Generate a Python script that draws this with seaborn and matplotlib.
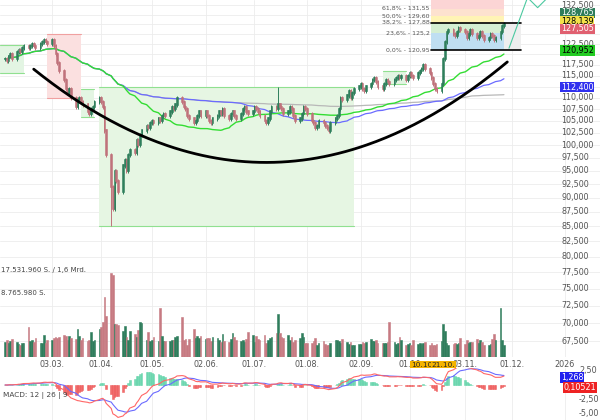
import numpy as np
import pandas as pd
import matplotlib
matplotlib.use("Agg")
import matplotlib.pyplot as plt
import matplotlib.transforms as mtransforms
import seaborn as sns

sns.set_style("white")
plt.rcParams['font.family'] = ['DejaVu Sans']

# ---------------- data (thousands / millions) ----------------
closes_feb = [119, 118.5, 119.5, 120, 119, 120.5, 121, 120.5, 121.5, 122, 121.5, 122, 122.5, 122, 121.5, 122.5, 123, 123.5, 123, 122.5]
closes_mar = [123.5, 122, 120, 118, 116, 114, 112, 111, 112, 110, 108, 109.5, 110, 109, 108.5, 107, 106.5, 107.5, 108, 109, 110]
closes_apr = [109, 108, 103, 98, 92, 88, 95, 93, 91, 96, 97, 95, 98, 99, 98.5, 101, 100, 102, 103, 104, 103.5, 104.5]
closes_may = [105, 104.5, 105.5, 105, 106, 106.5, 106, 107, 108, 107.5, 108.5, 110, 109, 108, 107.5, 106, 105.5, 104.5, 105, 106, 107, 106]
closes_jun = [107, 106, 105, 104.5, 105.5, 106, 107, 106.5, 107.5, 106, 105.5, 106.5, 107, 106, 105.5, 106.5, 107.5, 108, 107, 106.5, 107]
closes_jul = [108, 107.5, 107, 106, 105, 104.5, 105.5, 107, 108, 107.5, 108.5, 108, 107.5, 106.5, 107, 108, 107.5, 106, 105, 105.5, 106.5, 108, 107.5]
closes_aug = [106.5, 105, 104.5, 103.5, 104, 105, 104.5, 104, 103.5, 103, 104.5, 105.5, 106, 107.5, 110, 109.5, 110.5, 111.5, 110, 111, 112]
closes_sep = [112.5, 113, 112, 111.5, 112.5, 113, 114, 114.5, 113.5, 112.5, 112, 113, 114, 113.5, 113, 114, 114.5, 115, 114.5, 115, 114, 115]
closes_oct = [115.5, 115, 114.5, 115.5, 116, 116.5, 117.5, 116.5, 115.5, 114.5, 113, 112, 111.5, 113, 119, 123, 125.5, 126, 125, 124.5, 125.5, 126.5, 126]
closes_nov = [125.5, 124, 125, 126, 125, 124, 124.5, 125.5, 124.5, 123.5, 124, 125, 124.5, 123.5, 124, 125.5, 127, 127.5]

vol_feb = [3.2, 3.5, 3.0, 3.4, 3.8, 3.2, 2.8, 2.5, 3.0, 2.9, 6.2, 3.4, 3.6, 3.1, 3.9, 3.0, 2.9, 4.5, 3.0, 3.6]
vol_mar = [3.6, 3.9, 4.2, 4.0, 4.1, 4.6, 4.3, 3.5, 4.3, 4.0, 3.7, 5.8, 4.4, 3.6, 3.9, 3.3, 3.6, 5.3, 3.3, 3.6, 5.8]
vol_apr = [6.2, 7.2, 12.5, 8.5, 17.5, 17.0, 6.8, 6.9, 6.6, 5.4, 6.4, 4.2, 3.6, 5.4, 4.7, 4.2, 5.6, 7.3, 7.0, 3.5, 5.2, 3.3]
vol_may = [3.6, 4.1, 3.4, 10.2, 4.3, 3.4, 3.3, 3.4, 3.5, 3.6, 4.2, 4.4, 8.4, 3.5, 3.8, 2.6, 3.8, 5.8, 4.0, 4.3, 3.9, 4.3]
vol_jun = [3.7, 3.9, 3.9, 3.3, 4.1, 4.0, 3.6, 3.1, 4.8, 3.4, 3.1, 3.7, 5.1, 4.1, 3.5, 3.4, 3.5, 3.2, 3.8, 5.3, 4.6]
vol_jul = [3.2, 4.3, 3.7, 3.5, 4.5, 2.9, 3.6, 4.0, 4.2, 5.0, 9.0, 5.0, 4.2, 3.9, 4.5, 3.6, 4.1, 3.2, 3.5, 3.9, 4.9, 4.1, 2.9]
vol_aug = [3.0, 3.0, 3.4, 3.9, 2.6, 3.0, 3.3, 2.8, 2.6, 2.4, 2.9, 3.6, 3.5, 3.4, 3.0, 3.8, 3.2, 2.7, 3.1, 2.5, 2.6]
vol_sep = [2.8, 2.8, 3.2, 3.0, 3.1, 3.7, 3.3, 3.4, 3.6, 3.0, 2.9, 2.9, 2.9, 3.2, 7.2, 3.1, 2.8, 2.9, 4.1, 3.6, 2.6, 2.8]
vol_oct = [3.0, 2.6, 3.5, 2.8, 3.0, 2.7, 2.9, 3.1, 2.6, 2.9, 2.6, 2.6, 2.8, 3.3, 6.8, 5.4, 2.9, 2.6, 2.8, 3.0, 2.8, 2.9, 3.9]
vol_nov = [2.7, 3.5, 3.0, 3.1, 3.1, 3.7, 3.0, 3.6, 3.2, 2.5, 2.6, 2.7, 3.8, 4.8, 3.6, 10.2, 3.5, 2.4]

fib_levels = [120.95, 125.2, 127.88, 129.60, 131.55]
fib_names = ["0,0% - 120,95", "23,6% - 125,2", "38,2% - 127,88", "50,0% - 129,60", "61,8% - 131,55"]
price_ticks = np.arange(67500, 132501, 2500)
date_ticks = ["2025-03-03", "2025-04-01", "2025-05-01", "2025-06-02", "2025-07-01",
              "2025-08-01", "2025-09-02", "2025-10-01", "2025-11-03", "2025-12-01", "2026-01-01"]
date_labels = ["03.03.", "01.04.", "01.05.", "02.06.", "01.07.", "01.08.", "02.09.", "01.10", "03.11.", "01.12.", "2026"]

closes = np.array(closes_feb + closes_mar + closes_apr + closes_may + closes_jun + closes_jul +
                  closes_aug + closes_sep + closes_oct + closes_nov) * 1000
vols = np.array(vol_feb + vol_mar + vol_apr + vol_may + vol_jun + vol_jul + vol_aug + vol_sep + vol_oct + vol_nov)
fib_levels = [v * 1000 for v in fib_levels]
n = min(len(closes), len(vols))
closes, vols = closes[:n], vols[:n]
dates = pd.bdate_range("2025-02-03", periods=n)
opens = np.concatenate([[closes[0]], closes[:-1]])
highs = np.maximum(opens, closes) * 1.004
lows = np.minimum(opens, closes) * 0.996
lows[list(dates).index(pd.Timestamp("2025-04-07"))] = 85000
highs[list(dates).index(pd.Timestamp("2025-07-15"))] = 112500
up = closes >= opens

s = pd.Series(closes, index=dates)
ma = pd.DataFrame({"date": dates,
                   "ma50": s.rolling(50, min_periods=1).mean().values,
                   "ma100": s.rolling(100, min_periods=1).mean().values,
                   "ma200": s.rolling(200, min_periods=1).mean().values})
ema12 = s.ewm(span=12).mean(); ema26 = s.ewm(span=26).mean()
macd = (ema12 - ema26) / 1000
sig = macd.ewm(span=9).mean()
hist = macd - sig

# ---------------- figure ----------------
fig = plt.figure(figsize=(6, 4.2), dpi=100)
ax = fig.add_axes([0, 63/420, 1, 357/420])
axm = fig.add_axes([0, 0, 1, 52/420], sharex=ax)
xmin, xmax = pd.Timestamp("2025-01-31"), pd.Timestamp("2026-01-22")
ax.set_yscale("log")
for sp in list(ax.spines.values()) + list(axm.spines.values()):
    sp.set_visible(False)

# grid
for p in price_ticks:
    ax.axhline(p, color="#ececec", lw=0.6, zorder=0)
for d in date_ticks:
    ax.axvline(pd.Timestamp(d), color="#ececec", lw=0.6, zorder=0)
    axm.axvline(pd.Timestamp(d), color="#ececec", lw=0.6, zorder=0)

def rect(x0, x1, y0, y1, fc, ec, lw=0.8, z=1):
    ax.fill_between([pd.Timestamp(x0), pd.Timestamp(x1)], y0, y1, color=fc, lw=0, zorder=z)
    if ec:
        ax.plot([pd.Timestamp(x0), pd.Timestamp(x1)], [y1, y1], color=ec, lw=lw, zorder=z)
        ax.plot([pd.Timestamp(x0), pd.Timestamp(x1)], [y0, y0], color=ec, lw=lw, zorder=z)

rect("2025-01-31", "2025-02-14", 115500, 122300, "#e3f5e3", "#90e090")
rect("2025-02-28", "2025-03-20", 110000, 125000, "#fbe0e0", "#f0a0a0")
rect("2025-03-20", "2025-03-28", 105800, 112000, "#e3f5e3", "#90e090")
rect("2025-03-31", "2025-08-29", 85000, 112300, "#e6f6e3", "#90e090")
rect("2025-09-15", "2025-09-29", 113000, 116000, "#e3f5e3", "#90e090")

# fib box
fx0, fx1, fx2 = pd.Timestamp("2025-10-14"), pd.Timestamp("2025-11-26"), pd.Timestamp("2025-12-06")
fcols = ["#bfdff2", "#d5efd2", "#fff4b5", "#fde2cf", "#fcd5d5"]
for i in range(5):
    top = fib_levels[i + 1] if i < 4 else 134000
    ax.fill_between([fx0, fx1], fib_levels[i], top, color=fcols[i], lw=0, zorder=1)
ax.fill_between([fx1, fx2], fib_levels[0], fib_levels[2], color="#eeeeee", lw=0, zorder=1)
for lv, nm in zip(fib_levels, fib_names):
    ax.text(fx0 - pd.Timedelta(days=1), lv, nm, fontsize=4.5, color="#555555", ha="right", va="center", zorder=5)
ax.plot([fx0, fx2], [fib_levels[2]] * 2, color="black", lw=1.2, zorder=6)
ax.plot([fx0, fx2], [fib_levels[0]] * 2, color="black", lw=1.2, zorder=6)
ax.plot([pd.Timestamp("2025-11-29"), pd.Timestamp("2025-12-10"), pd.Timestamp("2025-12-16"), pd.Timestamp("2025-12-22")],
        [121500, 134500, 131800, 134500], color="#4cc9a0", lw=0.8, zorder=6)

# moving averages
sns.lineplot(data=ma, x="date", y="ma200", ax=ax, color="#b8b8b8", lw=0.9, zorder=3)
sns.lineplot(data=ma, x="date", y="ma100", ax=ax, color="#6b6bff", lw=0.9, zorder=3)
sns.lineplot(data=ma, x="date", y="ma50", ax=ax, color="#33dd33", lw=1.0, zorder=3)

# cup curve
cup_d = [pd.Timestamp("2025-02-20"), pd.Timestamp("2025-06-18"), pd.Timestamp("2025-11-28")]
cup_p = [116500, 97000, 118200]
cd = np.array([(d - xmin).days for d in cup_d], float)
coef = np.polyfit(cd, np.log(cup_p), 2)
xx = np.linspace(cd[0], cd[-1], 200)
ax.plot([xmin + pd.Timedelta(days=float(v)) for v in xx], np.exp(np.polyval(coef, xx)), color="black", lw=2, zorder=6)

# candles
green, red = "#2f7f5c", "#c0727b"
cols = np.where(up, green, red)
ax.vlines(dates, lows, highs, colors=cols, lw=0.7, zorder=4)
ax.bar(dates, np.abs(closes - opens) + 250, bottom=np.minimum(opens, closes), width=1.0,
       color=cols, edgecolor=cols, linewidth=0.4, zorder=4)

ax.set_xlim(xmin, xmax)
ax.set_ylim(65400, 133840)

# volume
axv = ax.twinx()
vcols = np.where(up, "#2f7d5c", "#c77a82")
axv.bar(dates, vols, width=1.0, color=vcols, edgecolor=vcols, linewidth=0.4, zorder=2)
axv.set_ylim(0, 74.4)
axv.set_xlim(xmin, xmax)
axv.axis("off")
ax.text(0.002, 0.245, "17.531.960 S. / 1,6 Mrd.", transform=ax.transAxes, fontsize=5, color="#444444", va="center")
ax.text(0.002, 0.18, "8.765.980 S.", transform=ax.transAxes, fontsize=5, color="#444444", va="center")

# price axis labels
ax.set_ylabel(""); ax.set_xlabel("")
ax.yaxis.set_major_locator(matplotlib.ticker.NullLocator())
ax.yaxis.set_minor_locator(matplotlib.ticker.NullLocator())
tr = mtransforms.blended_transform_factory(ax.transAxes, ax.transData)
boxes = [(130400, "128,765", "#2e7d5b", "white"), (128300, "128,139", "#f3e24a", "black"),
         (126300, "127,505", "#e06070", "white"), (120952, "120,952", "#22cc22", "black"),
         (112400, "112,400", "#3030ee", "white")]
for p in price_ticks:
    if any(abs(np.log(p / b[0])) < 0.011 for b in boxes):
        continue
    ax.text(0.935, p, f"{p:,}", transform=tr, fontsize=5.8, color="#555555", va="center", zorder=7)
for v, t, bc, fc in boxes:
    ax.text(0.935, v, t, transform=tr, fontsize=5.8, color=fc, va="center", zorder=8,
            bbox=dict(boxstyle="square,pad=0.1", fc=bc, ec="none"))

# x labels
ax.set_xticks([pd.Timestamp(d) for d in date_ticks])
ax.set_xticklabels(date_labels, fontsize=5.8, color="#555555")
ax.tick_params(axis="x", length=0, pad=2)
plt.setp(axm.get_xticklabels(), visible=False)
trx = mtransforms.blended_transform_factory(ax.transData, ax.transAxes)
for d, t in [("2025-10-09", "10.10."), ("2025-10-21", "21.10.")]:
    ax.text(pd.Timestamp(d), -0.013, t, transform=trx, fontsize=5.3, ha="center", va="top",
            bbox=dict(boxstyle="square,pad=0.1", fc="#f4b400", ec="none"), zorder=9)

# MACD
hcols = np.where(hist >= 0, "#5fd3a8", "#ee5555")
axm.bar(dates, hist * 1.5, width=1.0, color=hcols, edgecolor=hcols, linewidth=0.4, alpha=0.85)
axm.plot(dates, sig.values, color="#6b6bff", lw=0.8)
axm.plot(dates, macd.values, color="#ff6666", lw=0.8)
axm.set_ylim(-6.2, 3.0)
axm.set_yticks([])
axm.tick_params(axis="x", length=0)
trm = mtransforms.blended_transform_factory(axm.transAxes, axm.transData)
for v, t in [(2.5, "2,50"), (-2.5, "-2,50"), (-5.0, "-5,00")]:
    axm.text(0.965, v, t, transform=trm, fontsize=5.8, color="#555555", va="center")
axm.text(0.935, 1.268, "1,268", transform=trm, fontsize=5.8, color="white", va="center",
         bbox=dict(boxstyle="square,pad=0.1", fc="#2020ee", ec="none"))
axm.text(0.94, -0.5, "0,10521", transform=trm, fontsize=5.8, color="white", va="center",
         bbox=dict(boxstyle="square,pad=0.1", fc="#ee2222", ec="none"))
axm.text(0.005, -1.8, "MACD: 12 | 26 | 9", transform=trm, fontsize=5.3, color="#444444", va="center")

fig.savefig("out.png", dpi=100)
